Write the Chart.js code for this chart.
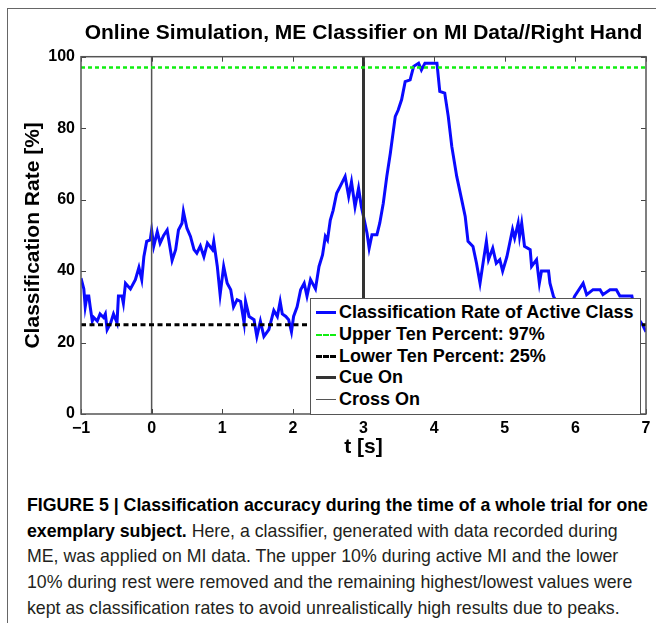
<!DOCTYPE html>
<html>
<head>
<meta charset="utf-8">
<script src="https://cdn.jsdelivr.net/npm/chart.js@4/dist/chart.umd.min.js"></script>
<style>
  html, body { margin: 0; padding: 0; background: #fff; }
  #page { position: relative; width: 656px; height: 623px; overflow: hidden; }
  #frame { position: absolute; left: 7px; top: 8px; width: 660px; height: 640px;
           border-left: 1.5px solid #666; border-top: 1.5px solid #666; }
  #myChart { position: absolute; left: 0; top: 0; }
  #legendBox { position: absolute; left: 310px; top: 298px; width: 329px; height: 112px;
               background: #fff; border: 1.5px solid #555; padding-top: 3px; box-sizing: content-box;
               font-family: "Liberation Sans", Arial, sans-serif; font-weight: bold; font-size: 18px; color: #000; }
  .row { height: 21.7px; display: flex; align-items: center; white-space: nowrap; }
  .sample { width: 20px; margin: 0 3px 0 5px; height: 0; }
  #caption { position: absolute; left: 27px; top: 492px; white-space: nowrap;
             font-family: "Liberation Sans", Arial, sans-serif;
             font-size: 18.5px; line-height: 25.7px; color: #231f20;
             transform-origin: 0 0; }
  #caption b { color: #000; }
  #caption span { display: inline-block; }
</style>
</head>
<body>
<div id="page">
  <div id="frame"></div>
  <canvas id="myChart" width="656" height="470"></canvas>
  <div id="legendBox"></div>
  <div id="caption">
    <span id="capLine1"><b>FIGURE 5 | Classification accuracy during the time of a whole trial for one</b></span><br>
    <span><b>exemplary subject.</b> Here, a classifier, generated with data recorded during</span><br>
    <span>ME, was applied on MI data. The upper 10% during active MI and the lower</span><br>
    <span>10% during rest were removed and the remaining highest/lowest values were</span><br>
    <span>kept as classification rates to avoid unrealistically high results due to peaks.</span>
  </div>
</div>
<script>
// time axis [s] and classification rate of the active class [%]
const timeS = [
  -1.00, -0.96, -0.94, -0.915, -0.89, -0.87, -0.84, -0.82, -0.77, -0.73,
  -0.68, -0.655, -0.63, -0.58, -0.54, -0.49, -0.47, -0.42, -0.40, -0.37,
  -0.30, -0.23, -0.18, -0.14, -0.11, -0.07, -0.02, 0.00, 0.03, 0.08,
  0.12, 0.17, 0.22, 0.29, 0.34, 0.38, 0.43, 0.45, 0.50, 0.55,
  0.60, 0.64, 0.69, 0.74, 0.79, 0.86, 0.88, 0.93, 0.97, 1.02,
  1.07, 1.12, 1.16, 1.21, 1.26, 1.31, 1.33, 1.38, 1.45, 1.49,
  1.54, 1.59, 1.66, 1.73, 1.78, 1.82, 1.85, 1.90, 1.94, 1.98,
  2.01, 2.06, 2.11, 2.16, 2.20, 2.25, 2.32, 2.37, 2.42, 2.46,
  2.49, 2.53, 2.57, 2.62, 2.67, 2.74, 2.79, 2.83, 2.88, 2.93,
  2.97, 3.00, 3.05, 3.08, 3.12, 3.19, 3.23, 3.28, 3.33, 3.38,
  3.45, 3.49, 3.54, 3.59, 3.66, 3.71, 3.78, 3.82, 3.87, 4.04,
  4.08, 4.15, 4.20, 4.25, 4.32, 4.39, 4.44, 4.48, 4.55, 4.60,
  4.65, 4.70, 4.74, 4.77, 4.83, 4.88, 4.93, 4.97, 5.03, 5.07,
  5.11, 5.14, 5.19, 5.21, 5.24, 5.28, 5.36, 5.38, 5.45, 5.49,
  5.52, 5.62, 5.64, 5.69, 5.75, 5.85, 5.95, 5.99, 6.11, 6.16,
  6.25, 6.35, 6.39, 6.49, 6.58, 6.63, 6.80, 6.85, 6.95, 7.00
];
const activeRate = [
  38, 35, 30, 33, 33, 30, 26, 27, 26, 28,
  27, 28, 23.6, 25.5, 28, 25.5, 33, 33, 31, 36.6,
  35, 37.6, 41, 37.6, 44, 48.3, 48.7, 51.5, 47, 51,
  47.8, 50, 51.5, 43, 46, 51.5, 53.4, 56.7, 52, 49.7,
  46, 45, 47, 44, 47.8, 46, 48.3, 41.3, 33.4, 41.3,
  36.6, 34.8, 30, 32, 31.5, 25.4, 31.5, 27.3, 26.4, 21.7,
  26, 21.7, 23.6, 29, 27.3, 31.5, 28, 27.3, 26.4, 23,
  27.3, 30, 34.8, 36.6, 33, 37.6, 35, 41.3, 44.5, 49.7,
  48.7, 54.3, 57, 61.8, 63.7, 66.5, 60.9, 65, 58, 63.2,
  58, 55.3, 50.6, 46.4, 50.2, 50.2, 53.4, 59, 66.5, 73,
  83.3, 85, 88, 93, 93.5, 97.3, 98.2, 96.3, 98.2, 98.2,
  90.3, 89.8, 83.3, 74.9, 66.5, 60, 55.3, 48.3, 46.9, 42.2,
  36.6, 43.2, 48.3, 43.2, 46.4, 42.2, 43.2, 40, 44, 47.8,
  51.6, 49.2, 53.4, 49.7, 53.4, 46.9, 46, 41.3, 43.2, 36.6,
  40, 40, 36.6, 32.9, 31, 30, 31, 33, 36.6, 33.4,
  34.8, 34.8, 33.4, 34.8, 34.8, 33, 33, 28, 25, 23
];
const upperTenPercent = 97;
const lowerTenPercent = 25;
const cueOnTime = 3;
const crossOnTime = 0;
const xRange = [-1, 7];
const yRange = [0, 100];

const seriesNames = [
  'Classification Rate of Active Class',
  'Upper Ten Percent: 97%',
  'Lower Ten Percent: 25%',
  'Cue On',
  'Cross On'
];

const font = 'Liberation Sans, Arial, sans-serif';

// inward tick marks + box around the plot, like the matlab axes
const boxTicks = {
  id: 'boxTicks',
  afterDatasetsDraw(chart) {
    const { ctx, chartArea: a, scales: { x, y } } = chart;
    ctx.save();
    ctx.strokeStyle = '#444';
    ctx.lineWidth = 1;
    ctx.beginPath();
    x.ticks.forEach(t => {
      const px = Math.round(x.getPixelForValue(t.value)) + 0.5;
      ctx.moveTo(px, a.bottom); ctx.lineTo(px, a.bottom - 5);
      ctx.moveTo(px, a.top); ctx.lineTo(px, a.top + 5);
    });
    y.ticks.forEach(t => {
      const py = Math.round(y.getPixelForValue(t.value)) + 0.5;
      ctx.moveTo(a.left, py); ctx.lineTo(a.left + 5, py);
      ctx.moveTo(a.right, py); ctx.lineTo(a.right - 5, py);
    });
    ctx.stroke();
    ctx.strokeStyle = '#555';
    ctx.lineWidth = 1.5;
    ctx.strokeRect(a.left, a.top, a.right - a.left, a.bottom - a.top);
    ctx.restore();
  }
};

const ctx = document.getElementById('myChart').getContext('2d');
const chart = new Chart(ctx, {
  type: 'line',
  data: {
    datasets: [{
      label: seriesNames[0],
      data: timeS.map((t, i) => ({ x: t, y: activeRate[i] })),
      borderColor: '#0a0aff',
      borderWidth: 3,
      pointRadius: 0,
      order: 5
    }, {
      label: seriesNames[1],
      data: [{ x: xRange[0], y: upperTenPercent }, { x: xRange[1], y: upperTenPercent }],
      borderColor: '#11ee11',
      borderWidth: 2.5,
      borderDash: [4, 3],
      pointRadius: 0,
      order: 1
    }, {
      label: seriesNames[2],
      data: [{ x: xRange[0], y: lowerTenPercent }, { x: xRange[1], y: lowerTenPercent }],
      borderColor: '#000',
      borderWidth: 3,
      borderDash: [5, 3.5],
      pointRadius: 0,
      order: 1
    }, {
      label: seriesNames[3],
      data: [{ x: cueOnTime, y: yRange[0] }, { x: cueOnTime, y: yRange[1] }],
      borderColor: '#333',
      borderWidth: 3,
      pointRadius: 0,
      order: 1
    }, {
      label: seriesNames[4],
      data: [{ x: crossOnTime, y: yRange[0] }, { x: crossOnTime, y: yRange[1] }],
      borderColor: '#555',
      borderWidth: 1.5,
      pointRadius: 0,
      order: 1
    }]
  },
  options: {
    responsive: false,
    animation: false,
    layout: { padding: { left: 0, right: 10, top: 0, bottom: 6 } },
    plugins: {
      legend: { display: false },
      tooltip: { enabled: false },
      title: {
        display: true,
        fullSize: false,
        text: 'Online Simulation, ME Classifier on MI Data//Right Hand',
        color: '#000',
        font: { family: font, size: 21, weight: 'bold' },
        padding: { top: 21, bottom: 10.5 }
      }
    },
    scales: {
      x: {
        type: 'linear',
        min: xRange[0],
        max: xRange[1],
        grid: { display: false, drawTicks: false },
        border: { display: false },
        ticks: {
          stepSize: 1,
          padding: 5,
          color: '#000',
          font: { family: font, size: 16, weight: 'bold' },
          callback: v => (v < 0 ? '\u2212' + Math.abs(v) : String(v))
        },
        title: {
          display: true,
          text: 't [s]',
          color: '#000',
          font: { family: font, size: 21, weight: 'bold' },
          padding: { top: 0, bottom: 4 }
        },
        afterFit(scale) { scale.height = 50; }
      },
      y: {
        min: yRange[0],
        max: yRange[1],
        grid: { display: false, drawTicks: false },
        border: { display: false },
        ticks: {
          stepSize: 20,
          padding: 6,
          color: '#000',
          font: { family: font, size: 16, weight: 'bold' }
        },
        title: {
          display: true,
          text: 'Classification Rate [%]',
          color: '#000',
          font: { family: font, size: 21, weight: 'bold' },
          padding: { top: 21, bottom: 0 }
        },
        afterFit(scale) { scale.width = 81; }
      }
    }
  },
  plugins: [boxTicks]
});

// legend box inside the plot, lower right
const legendStyles = [
  'border-top: 3px solid #0a0aff',
  'border-top: 2.5px dashed #11ee11',
  'border-top: 3px dashed #000',
  'border-top: 3px solid #333',
  'border-top: 1.5px solid #555'
];
const legendBox = document.getElementById('legendBox');
chart.data.datasets.forEach((ds, i) => {
  const row = document.createElement('div');
  row.className = 'row';
  const s = document.createElement('span');
  s.className = 'sample';
  s.style.cssText = legendStyles[i];
  row.appendChild(s);
  row.appendChild(document.createTextNode(ds.label));
  legendBox.appendChild(row);
});

// the caption uses a condensed face in the original; squeeze it to the same width
const caption = document.getElementById('caption');
const line1 = document.getElementById('capLine1').getBoundingClientRect().width;
caption.style.transform = 'scaleX(' + (621 / line1).toFixed(4) + ')';
</script>
</body>
</html>
